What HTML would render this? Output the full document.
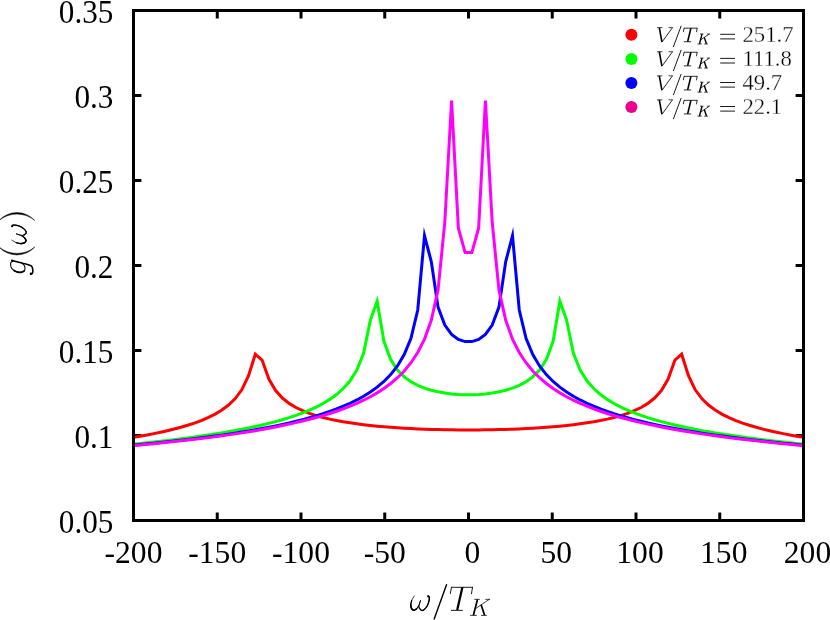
<!DOCTYPE html>
<html><head><meta charset="utf-8"><style>html,body{margin:0;padding:0;background:#fff}svg{display:block;will-change:transform}text{font-family:"Liberation Serif",serif;fill:#000}</style></head><body>
<svg width="830" height="620" viewBox="0 0 830 620">
<rect width="830" height="620" fill="#fff"/>
<path d="M217.25 520.50v-7.90M217.25 10.50v7.90M301.00 520.50v-7.90M301.00 10.50v7.90M384.75 520.50v-7.90M384.75 10.50v7.90M468.50 520.50v-7.90M468.50 10.50v7.90M552.25 520.50v-7.90M552.25 10.50v7.90M636.00 520.50v-7.90M636.00 10.50v7.90M719.75 520.50v-7.90M719.75 10.50v7.90M133.50 435.50h7.90M803.50 435.50h-7.90M133.50 350.50h7.90M803.50 350.50h-7.90M133.50 265.50h7.90M803.50 265.50h-7.90M133.50 180.50h7.90M803.50 180.50h-7.90M133.50 95.50h7.90M803.50 95.50h-7.90" stroke="#000" stroke-width="3" fill="none"/>
<polyline fill="none" stroke="#ff0000" stroke-width="3" stroke-linejoin="miter" stroke-miterlimit="10" stroke-linecap="butt" points="133.50,437.32 140.27,436.18 147.04,434.96 153.80,433.65 160.57,432.25 167.34,430.73 174.11,429.08 180.87,427.28 187.64,425.29 194.41,423.06 201.18,420.56 207.94,417.69 214.71,414.33 221.48,410.31 228.25,405.33 235.02,398.85 241.78,389.80 248.55,375.75 255.32,354.21 262.09,360.04 268.85,379.08 275.62,390.56 282.39,398.05 289.16,403.40 295.92,407.48 302.69,410.71 309.46,413.37 316.23,415.58 322.99,417.47 329.76,419.10 336.53,420.51 343.30,421.76 350.07,422.85 356.83,423.82 363.60,424.69 370.37,425.46 377.14,426.14 383.90,426.75 390.67,427.29 397.44,427.78 404.21,428.20 410.97,428.57 417.74,428.90 424.51,429.18 431.28,429.41 438.05,429.60 444.81,429.75 451.58,429.87 458.35,429.94 465.12,429.98 471.88,429.98 478.65,429.94 485.42,429.87 492.19,429.75 498.95,429.60 505.72,429.41 512.49,429.18 519.26,428.90 526.03,428.57 532.79,428.20 539.56,427.78 546.33,427.29 553.10,426.75 559.86,426.14 566.63,425.46 573.40,424.69 580.17,423.82 586.93,422.85 593.70,421.76 600.47,420.51 607.24,419.10 614.01,417.47 620.77,415.58 627.54,413.37 634.31,410.71 641.08,407.48 647.84,403.40 654.61,398.05 661.38,390.56 668.15,379.08 674.91,360.04 681.68,354.21 688.45,375.75 695.22,389.80 701.98,398.85 708.75,405.33 715.52,410.31 722.29,414.33 729.06,417.69 735.82,420.56 742.59,423.06 749.36,425.29 756.13,427.28 762.89,429.08 769.66,430.73 776.43,432.25 783.20,433.65 789.96,434.96 796.73,436.18 803.50,437.32"/>
<polyline fill="none" stroke="#00ff00" stroke-width="3" stroke-linejoin="miter" stroke-miterlimit="10" stroke-linecap="butt" points="133.50,444.14 140.27,443.46 147.04,442.75 153.80,442.02 160.57,441.27 167.34,440.49 174.11,439.67 180.87,438.83 187.64,437.95 194.41,437.04 201.18,436.09 207.94,435.09 214.71,434.05 221.48,432.95 228.25,431.81 235.02,430.60 241.78,429.32 248.55,427.97 255.32,426.53 262.09,425.00 268.85,423.36 275.62,421.60 282.39,419.71 289.16,417.64 295.92,415.39 302.69,412.91 309.46,410.15 316.23,407.05 322.99,403.51 329.76,399.40 336.53,394.51 343.30,388.50 350.07,380.78 356.83,370.08 363.60,353.32 370.37,320.19 377.14,301.16 383.90,341.27 390.67,359.62 397.44,370.03 404.21,376.87 410.97,381.74 417.74,385.36 424.51,388.11 431.28,390.23 438.05,391.85 444.81,393.07 451.58,393.93 458.35,394.49 465.12,394.77 471.88,394.77 478.65,394.49 485.42,393.93 492.19,393.07 498.95,391.85 505.72,390.23 512.49,388.11 519.26,385.36 526.03,381.74 532.79,376.87 539.56,370.03 546.33,359.62 553.10,341.27 559.86,301.16 566.63,320.19 573.40,353.32 580.17,370.08 586.93,380.78 593.70,388.50 600.47,394.51 607.24,399.40 614.01,403.51 620.77,407.05 627.54,410.15 634.31,412.91 641.08,415.39 647.84,417.64 654.61,419.71 661.38,421.60 668.15,423.36 674.91,425.00 681.68,426.53 688.45,427.97 695.22,429.32 701.98,430.60 708.75,431.81 715.52,432.95 722.29,434.05 729.06,435.09 735.82,436.09 742.59,437.04 749.36,437.95 756.13,438.83 762.89,439.67 769.66,440.49 776.43,441.27 783.20,442.02 789.96,442.75 796.73,443.46 803.50,444.14"/>
<polyline fill="none" stroke="#0000ff" stroke-width="3" stroke-linejoin="miter" stroke-miterlimit="10" stroke-linecap="butt" points="133.50,445.14 140.27,444.51 147.04,443.86 153.80,443.19 160.57,442.50 167.34,441.79 174.11,441.06 180.87,440.30 187.64,439.52 194.41,438.70 201.18,437.86 207.94,436.99 214.71,436.08 221.48,435.14 228.25,434.15 235.02,433.13 241.78,432.06 248.55,430.94 255.32,429.77 262.09,428.54 268.85,427.25 275.62,425.89 282.39,424.45 289.16,422.94 295.92,421.32 302.69,419.61 309.46,417.78 316.23,415.82 322.99,413.71 329.76,411.43 336.53,408.95 343.30,406.24 350.07,403.26 356.83,399.95 363.60,396.24 370.37,392.03 377.14,387.17 383.90,381.47 390.67,374.60 397.44,366.00 404.21,354.64 410.97,338.23 417.74,310.00 424.51,235.61 431.28,261.59 438.05,307.13 444.81,325.06 451.58,334.34 458.35,339.36 465.12,341.60 471.88,341.60 478.65,339.36 485.42,334.34 492.19,325.06 498.95,307.13 505.72,261.59 512.49,235.61 519.26,310.00 526.03,338.23 532.79,354.64 539.56,366.00 546.33,374.60 553.10,381.47 559.86,387.17 566.63,392.03 573.40,396.24 580.17,399.95 586.93,403.26 593.70,406.24 600.47,408.95 607.24,411.43 614.01,413.71 620.77,415.82 627.54,417.78 634.31,419.61 641.08,421.32 647.84,422.94 654.61,424.45 661.38,425.89 668.15,427.25 674.91,428.54 681.68,429.77 688.45,430.94 695.22,432.06 701.98,433.13 708.75,434.15 715.52,435.14 722.29,436.08 729.06,436.99 735.82,437.86 742.59,438.70 749.36,439.52 756.13,440.30 762.89,441.06 769.66,441.79 776.43,442.50 783.20,443.19 789.96,443.86 796.73,444.51 803.50,445.14"/>
<polyline fill="none" stroke="#ff00ff" stroke-width="3" stroke-linejoin="miter" stroke-miterlimit="10" stroke-linecap="butt" points="133.50,445.60 140.27,444.98 147.04,444.35 153.80,443.69 160.57,443.02 167.34,442.32 174.11,441.60 180.87,440.86 187.64,440.09 194.41,439.30 201.18,438.48 207.94,437.63 214.71,436.75 221.48,435.83 228.25,434.88 235.02,433.89 241.78,432.86 248.55,431.78 255.32,430.66 262.09,429.48 268.85,428.25 275.62,426.95 282.39,425.59 289.16,424.15 295.92,422.64 302.69,421.03 309.46,419.32 316.23,417.51 322.99,415.57 329.76,413.49 336.53,411.25 343.30,408.84 350.07,406.22 356.83,403.35 363.60,400.21 370.37,396.73 377.14,392.85 383.90,388.48 390.67,383.50 397.44,377.73 404.21,370.94 410.97,362.73 417.74,352.49 424.51,339.11 431.28,320.26 438.05,289.89 444.81,222.25 451.58,100.51 458.35,227.97 465.12,252.54 471.88,252.54 478.65,227.97 485.42,100.51 492.19,222.25 498.95,289.89 505.72,320.26 512.49,339.11 519.26,352.49 526.03,362.73 532.79,370.94 539.56,377.73 546.33,383.50 553.10,388.48 559.86,392.85 566.63,396.73 573.40,400.21 580.17,403.35 586.93,406.22 593.70,408.84 600.47,411.25 607.24,413.49 614.01,415.57 620.77,417.51 627.54,419.32 634.31,421.03 641.08,422.64 647.84,424.15 654.61,425.59 661.38,426.95 668.15,428.25 674.91,429.48 681.68,430.66 688.45,431.78 695.22,432.86 701.98,433.89 708.75,434.88 715.52,435.83 722.29,436.75 729.06,437.63 735.82,438.48 742.59,439.30 749.36,440.09 756.13,440.86 762.89,441.60 769.66,442.32 776.43,443.02 783.20,443.69 789.96,444.35 796.73,444.98 803.50,445.60"/>
<rect x="133.5" y="10.5" width="670.0" height="510.0" fill="none" stroke="#000" stroke-width="3"/>
<text transform="translate(133.50,562.9) scale(0.987,1.01)" font-size="32" text-anchor="middle">-200</text>
<text transform="translate(217.25,562.9) scale(0.987,1.01)" font-size="32" text-anchor="middle">-150</text>
<text transform="translate(301.00,562.9) scale(0.987,1.01)" font-size="32" text-anchor="middle">-100</text>
<text transform="translate(384.75,562.9) scale(0.987,1.01)" font-size="32" text-anchor="middle">-50</text>
<text transform="translate(472.50,562.9) scale(0.987,1.01)" font-size="32" text-anchor="middle">0</text>
<text transform="translate(556.25,562.9) scale(0.987,1.01)" font-size="32" text-anchor="middle">50</text>
<text transform="translate(640.00,562.9) scale(0.987,1.01)" font-size="32" text-anchor="middle">100</text>
<text transform="translate(723.75,562.9) scale(0.987,1.01)" font-size="32" text-anchor="middle">150</text>
<text transform="translate(807.50,562.9) scale(0.987,1.01)" font-size="32" text-anchor="middle">200</text>
<text transform="translate(113.4,532.50) scale(0.975,1.02)" font-size="32" text-anchor="end">0.05</text>
<text transform="translate(113.4,447.50) scale(0.975,1.02)" font-size="32" text-anchor="end">0.1</text>
<text transform="translate(113.4,362.50) scale(0.975,1.02)" font-size="32" text-anchor="end">0.15</text>
<text transform="translate(113.4,277.50) scale(0.975,1.02)" font-size="32" text-anchor="end">0.2</text>
<text transform="translate(113.4,192.50) scale(0.975,1.02)" font-size="32" text-anchor="end">0.25</text>
<text transform="translate(113.4,107.50) scale(0.975,1.02)" font-size="32" text-anchor="end">0.3</text>
<text transform="translate(113.4,22.50) scale(0.975,1.02)" font-size="32" text-anchor="end">0.35</text>
<circle cx="631.4" cy="34.8" r="6" fill="#ff0000"/>
<g transform="translate(657.00,42.10) scale(0.6000,0.5780)"><path d="M0.00 -25.00L9.00 -25.00" fill="none" stroke="#000" stroke-width="1.25" stroke-linecap="butt" stroke-linejoin="round"/><path d="M3.83 -25.00L8.17 -0.33" fill="none" stroke="#000" stroke-width="2.666666666666667" stroke-linecap="butt" stroke-linejoin="round"/><path d="M8.17 0.17L25.33 -24.33" fill="none" stroke="#000" stroke-width="1.4166666666666667" stroke-linecap="butt" stroke-linejoin="round"/><path d="M19.33 -25.00L27.00 -25.00" fill="none" stroke="#000" stroke-width="1.25" stroke-linecap="butt" stroke-linejoin="round"/></g>
<path d="M673.30 47.00L681.20 25.80" fill="none" stroke="#000" stroke-width="0.9" stroke-linecap="butt" stroke-linejoin="round"/>
<g transform="translate(683.20,41.95) scale(0.6200,0.5900)"><path d="M1.40 -23.40L22.70 -23.40" fill="none" stroke="#000" stroke-width="1.35" stroke-linecap="butt" stroke-linejoin="round"/><path d="M1.50 -23.80L0.30 -16.90" fill="none" stroke="#000" stroke-width="1.35" stroke-linecap="butt" stroke-linejoin="round"/><path d="M22.60 -23.80L21.40 -16.60" fill="none" stroke="#000" stroke-width="1.35" stroke-linecap="butt" stroke-linejoin="round"/><path d="M12.40 -23.40L7.20 -0.60" fill="none" stroke="#000" stroke-width="2.6" stroke-linecap="butt" stroke-linejoin="round"/><path d="M1.00 -0.35L12.80 -0.35" fill="none" stroke="#000" stroke-width="1.35" stroke-linecap="butt" stroke-linejoin="round"/></g>
<g transform="translate(697.40,44.20) scale(0.6200)"><path d="M7.50 -16.40L3.40 -0.60" fill="none" stroke="#000" stroke-width="2.3" stroke-linecap="butt" stroke-linejoin="round"/><path d="M4.30 -16.45L9.80 -16.45" fill="none" stroke="#000" stroke-width="1.25" stroke-linecap="butt" stroke-linejoin="round"/><path d="M0.10 -0.40L6.90 -0.40" fill="none" stroke="#000" stroke-width="1.25" stroke-linecap="butt" stroke-linejoin="round"/><path d="M5.90 -7.40L19.20 -16.40" fill="none" stroke="#000" stroke-width="1.25" stroke-linecap="butt" stroke-linejoin="round"/><path d="M15.30 -16.45L20.10 -16.45" fill="none" stroke="#000" stroke-width="1.25" stroke-linecap="butt" stroke-linejoin="round"/><path d="M11.10 -11.00L14.60 -0.60" fill="none" stroke="#000" stroke-width="2.3" stroke-linecap="butt" stroke-linejoin="round"/><path d="M11.10 -0.40L16.90 -0.40" fill="none" stroke="#000" stroke-width="1.25" stroke-linecap="butt" stroke-linejoin="round"/></g>
<path d="M720.2 34.30H735M720.2 38.90H735" fill="none" stroke="#000" stroke-width="0.9" stroke-linecap="butt" stroke-linejoin="round"/>
<text transform="translate(742.4,41.90) scale(1.034,1.06)" font-size="22" fill="#000" stroke="#fff" stroke-width="0.3">251.7</text>
<circle cx="631.4" cy="58.9" r="6" fill="#00ff00"/>
<g transform="translate(657.00,66.20) scale(0.6000,0.5780)"><path d="M0.00 -25.00L9.00 -25.00" fill="none" stroke="#000" stroke-width="1.25" stroke-linecap="butt" stroke-linejoin="round"/><path d="M3.83 -25.00L8.17 -0.33" fill="none" stroke="#000" stroke-width="2.666666666666667" stroke-linecap="butt" stroke-linejoin="round"/><path d="M8.17 0.17L25.33 -24.33" fill="none" stroke="#000" stroke-width="1.4166666666666667" stroke-linecap="butt" stroke-linejoin="round"/><path d="M19.33 -25.00L27.00 -25.00" fill="none" stroke="#000" stroke-width="1.25" stroke-linecap="butt" stroke-linejoin="round"/></g>
<path d="M673.30 71.10L681.20 49.90" fill="none" stroke="#000" stroke-width="0.9" stroke-linecap="butt" stroke-linejoin="round"/>
<g transform="translate(683.20,66.05) scale(0.6200,0.5900)"><path d="M1.40 -23.40L22.70 -23.40" fill="none" stroke="#000" stroke-width="1.35" stroke-linecap="butt" stroke-linejoin="round"/><path d="M1.50 -23.80L0.30 -16.90" fill="none" stroke="#000" stroke-width="1.35" stroke-linecap="butt" stroke-linejoin="round"/><path d="M22.60 -23.80L21.40 -16.60" fill="none" stroke="#000" stroke-width="1.35" stroke-linecap="butt" stroke-linejoin="round"/><path d="M12.40 -23.40L7.20 -0.60" fill="none" stroke="#000" stroke-width="2.6" stroke-linecap="butt" stroke-linejoin="round"/><path d="M1.00 -0.35L12.80 -0.35" fill="none" stroke="#000" stroke-width="1.35" stroke-linecap="butt" stroke-linejoin="round"/></g>
<g transform="translate(697.40,68.30) scale(0.6200)"><path d="M7.50 -16.40L3.40 -0.60" fill="none" stroke="#000" stroke-width="2.3" stroke-linecap="butt" stroke-linejoin="round"/><path d="M4.30 -16.45L9.80 -16.45" fill="none" stroke="#000" stroke-width="1.25" stroke-linecap="butt" stroke-linejoin="round"/><path d="M0.10 -0.40L6.90 -0.40" fill="none" stroke="#000" stroke-width="1.25" stroke-linecap="butt" stroke-linejoin="round"/><path d="M5.90 -7.40L19.20 -16.40" fill="none" stroke="#000" stroke-width="1.25" stroke-linecap="butt" stroke-linejoin="round"/><path d="M15.30 -16.45L20.10 -16.45" fill="none" stroke="#000" stroke-width="1.25" stroke-linecap="butt" stroke-linejoin="round"/><path d="M11.10 -11.00L14.60 -0.60" fill="none" stroke="#000" stroke-width="2.3" stroke-linecap="butt" stroke-linejoin="round"/><path d="M11.10 -0.40L16.90 -0.40" fill="none" stroke="#000" stroke-width="1.25" stroke-linecap="butt" stroke-linejoin="round"/></g>
<path d="M720.2 58.40H735M720.2 63.00H735" fill="none" stroke="#000" stroke-width="0.9" stroke-linecap="butt" stroke-linejoin="round"/>
<text transform="translate(742.4,66.00) scale(1.034,1.06)" font-size="22" fill="#000" stroke="#fff" stroke-width="0.3">111.8</text>
<circle cx="631.4" cy="83.0" r="6" fill="#0000ff"/>
<g transform="translate(657.00,90.30) scale(0.6000,0.5780)"><path d="M0.00 -25.00L9.00 -25.00" fill="none" stroke="#000" stroke-width="1.25" stroke-linecap="butt" stroke-linejoin="round"/><path d="M3.83 -25.00L8.17 -0.33" fill="none" stroke="#000" stroke-width="2.666666666666667" stroke-linecap="butt" stroke-linejoin="round"/><path d="M8.17 0.17L25.33 -24.33" fill="none" stroke="#000" stroke-width="1.4166666666666667" stroke-linecap="butt" stroke-linejoin="round"/><path d="M19.33 -25.00L27.00 -25.00" fill="none" stroke="#000" stroke-width="1.25" stroke-linecap="butt" stroke-linejoin="round"/></g>
<path d="M673.30 95.20L681.20 74.00" fill="none" stroke="#000" stroke-width="0.9" stroke-linecap="butt" stroke-linejoin="round"/>
<g transform="translate(683.20,90.15) scale(0.6200,0.5900)"><path d="M1.40 -23.40L22.70 -23.40" fill="none" stroke="#000" stroke-width="1.35" stroke-linecap="butt" stroke-linejoin="round"/><path d="M1.50 -23.80L0.30 -16.90" fill="none" stroke="#000" stroke-width="1.35" stroke-linecap="butt" stroke-linejoin="round"/><path d="M22.60 -23.80L21.40 -16.60" fill="none" stroke="#000" stroke-width="1.35" stroke-linecap="butt" stroke-linejoin="round"/><path d="M12.40 -23.40L7.20 -0.60" fill="none" stroke="#000" stroke-width="2.6" stroke-linecap="butt" stroke-linejoin="round"/><path d="M1.00 -0.35L12.80 -0.35" fill="none" stroke="#000" stroke-width="1.35" stroke-linecap="butt" stroke-linejoin="round"/></g>
<g transform="translate(697.40,92.40) scale(0.6200)"><path d="M7.50 -16.40L3.40 -0.60" fill="none" stroke="#000" stroke-width="2.3" stroke-linecap="butt" stroke-linejoin="round"/><path d="M4.30 -16.45L9.80 -16.45" fill="none" stroke="#000" stroke-width="1.25" stroke-linecap="butt" stroke-linejoin="round"/><path d="M0.10 -0.40L6.90 -0.40" fill="none" stroke="#000" stroke-width="1.25" stroke-linecap="butt" stroke-linejoin="round"/><path d="M5.90 -7.40L19.20 -16.40" fill="none" stroke="#000" stroke-width="1.25" stroke-linecap="butt" stroke-linejoin="round"/><path d="M15.30 -16.45L20.10 -16.45" fill="none" stroke="#000" stroke-width="1.25" stroke-linecap="butt" stroke-linejoin="round"/><path d="M11.10 -11.00L14.60 -0.60" fill="none" stroke="#000" stroke-width="2.3" stroke-linecap="butt" stroke-linejoin="round"/><path d="M11.10 -0.40L16.90 -0.40" fill="none" stroke="#000" stroke-width="1.25" stroke-linecap="butt" stroke-linejoin="round"/></g>
<path d="M720.2 82.50H735M720.2 87.10H735" fill="none" stroke="#000" stroke-width="0.9" stroke-linecap="butt" stroke-linejoin="round"/>
<text transform="translate(742.4,90.10) scale(1.034,1.06)" font-size="22" fill="#000" stroke="#fff" stroke-width="0.3">49.7</text>
<circle cx="631.4" cy="107.0" r="6" fill="#ec008c"/>
<g transform="translate(657.00,114.30) scale(0.6000,0.5780)"><path d="M0.00 -25.00L9.00 -25.00" fill="none" stroke="#000" stroke-width="1.25" stroke-linecap="butt" stroke-linejoin="round"/><path d="M3.83 -25.00L8.17 -0.33" fill="none" stroke="#000" stroke-width="2.666666666666667" stroke-linecap="butt" stroke-linejoin="round"/><path d="M8.17 0.17L25.33 -24.33" fill="none" stroke="#000" stroke-width="1.4166666666666667" stroke-linecap="butt" stroke-linejoin="round"/><path d="M19.33 -25.00L27.00 -25.00" fill="none" stroke="#000" stroke-width="1.25" stroke-linecap="butt" stroke-linejoin="round"/></g>
<path d="M673.30 119.20L681.20 98.00" fill="none" stroke="#000" stroke-width="0.9" stroke-linecap="butt" stroke-linejoin="round"/>
<g transform="translate(683.20,114.15) scale(0.6200,0.5900)"><path d="M1.40 -23.40L22.70 -23.40" fill="none" stroke="#000" stroke-width="1.35" stroke-linecap="butt" stroke-linejoin="round"/><path d="M1.50 -23.80L0.30 -16.90" fill="none" stroke="#000" stroke-width="1.35" stroke-linecap="butt" stroke-linejoin="round"/><path d="M22.60 -23.80L21.40 -16.60" fill="none" stroke="#000" stroke-width="1.35" stroke-linecap="butt" stroke-linejoin="round"/><path d="M12.40 -23.40L7.20 -0.60" fill="none" stroke="#000" stroke-width="2.6" stroke-linecap="butt" stroke-linejoin="round"/><path d="M1.00 -0.35L12.80 -0.35" fill="none" stroke="#000" stroke-width="1.35" stroke-linecap="butt" stroke-linejoin="round"/></g>
<g transform="translate(697.40,116.40) scale(0.6200)"><path d="M7.50 -16.40L3.40 -0.60" fill="none" stroke="#000" stroke-width="2.3" stroke-linecap="butt" stroke-linejoin="round"/><path d="M4.30 -16.45L9.80 -16.45" fill="none" stroke="#000" stroke-width="1.25" stroke-linecap="butt" stroke-linejoin="round"/><path d="M0.10 -0.40L6.90 -0.40" fill="none" stroke="#000" stroke-width="1.25" stroke-linecap="butt" stroke-linejoin="round"/><path d="M5.90 -7.40L19.20 -16.40" fill="none" stroke="#000" stroke-width="1.25" stroke-linecap="butt" stroke-linejoin="round"/><path d="M15.30 -16.45L20.10 -16.45" fill="none" stroke="#000" stroke-width="1.25" stroke-linecap="butt" stroke-linejoin="round"/><path d="M11.10 -11.00L14.60 -0.60" fill="none" stroke="#000" stroke-width="2.3" stroke-linecap="butt" stroke-linejoin="round"/><path d="M11.10 -0.40L16.90 -0.40" fill="none" stroke="#000" stroke-width="1.25" stroke-linecap="butt" stroke-linejoin="round"/></g>
<path d="M720.2 106.50H735M720.2 111.10H735" fill="none" stroke="#000" stroke-width="0.9" stroke-linecap="butt" stroke-linejoin="round"/>
<text transform="translate(742.4,114.10) scale(1.034,1.06)" font-size="22" fill="#000" stroke="#fff" stroke-width="0.3">22.1</text>
<g transform="translate(409.80,610.60)"><path d="M4.45 -14.60C4.03 -13.85 2.50 -11.58 1.92 -10.10C1.34 -8.62 1.01 -7.03 0.98 -5.70C0.94 -4.37 1.24 -2.98 1.73 -2.10C2.21 -1.22 3.09 -0.48 3.89 -0.40C4.69 -0.32 5.71 -0.92 6.52 -1.60C7.34 -2.28 8.09 -3.12 8.78 -4.50C9.47 -5.88 10.34 -9.00 10.66 -9.90" fill="none" stroke="#000" stroke-width="0.8" stroke-linecap="round" stroke-linejoin="round"/><path d="M1.92 -10.10C1.76 -9.37 1.01 -7.03 0.98 -5.70C0.94 -4.37 1.24 -2.98 1.73 -2.10C2.21 -1.22 3.09 -0.48 3.89 -0.40C4.69 -0.32 5.71 -0.92 6.52 -1.60C7.34 -2.28 8.40 -4.02 8.78 -4.50" fill="none" stroke="#000" stroke-width="1.2" stroke-linecap="round" stroke-linejoin="round"/><path d="M0.98 -5.70C1.10 -5.10 1.24 -2.98 1.73 -2.10C2.21 -1.22 3.09 -0.48 3.89 -0.40C4.69 -0.32 6.08 -1.40 6.52 -1.60" fill="none" stroke="#000" stroke-width="1.55" stroke-linecap="round" stroke-linejoin="round"/><path d="M10.66 -9.90C10.44 -9.13 9.53 -6.53 9.34 -5.30C9.15 -4.07 9.12 -3.35 9.53 -2.50C9.94 -1.65 10.96 -0.42 11.79 -0.20C12.62 0.02 13.56 -0.42 14.51 -1.20C15.47 -1.98 16.71 -3.35 17.52 -4.90C18.33 -6.45 19.09 -9.00 19.40 -10.50C19.71 -12.00 19.57 -13.23 19.40 -13.90C19.23 -14.57 18.54 -14.40 18.37 -14.50" fill="none" stroke="#000" stroke-width="1.0" stroke-linecap="round" stroke-linejoin="round"/><path d="M9.53 -2.50C9.91 -2.12 10.96 -0.42 11.79 -0.20C12.62 0.02 13.56 -0.42 14.51 -1.20C15.47 -1.98 16.71 -3.35 17.52 -4.90C18.33 -6.45 19.09 -9.00 19.40 -10.50C19.71 -12.00 19.40 -13.33 19.40 -13.90" fill="none" stroke="#000" stroke-width="1.35" stroke-linecap="round" stroke-linejoin="round"/><circle cx="18.37" cy="-14.3" r="1.1" fill="#000"/></g>
<path d="M434.00 619.60L446.70 584.30" fill="none" stroke="#000" stroke-width="1.4" stroke-linecap="butt" stroke-linejoin="round"/>
<g transform="translate(450.00,610.70)"><path d="M1.40 -23.40L22.70 -23.40" fill="none" stroke="#000" stroke-width="0.9" stroke-linecap="butt" stroke-linejoin="round"/><path d="M1.50 -23.80L0.30 -16.90" fill="none" stroke="#000" stroke-width="0.9" stroke-linecap="butt" stroke-linejoin="round"/><path d="M22.60 -23.80L21.40 -16.60" fill="none" stroke="#000" stroke-width="0.9" stroke-linecap="butt" stroke-linejoin="round"/><path d="M12.40 -23.40L7.20 -0.60" fill="none" stroke="#000" stroke-width="2.25" stroke-linecap="butt" stroke-linejoin="round"/><path d="M1.00 -0.35L12.80 -0.35" fill="none" stroke="#000" stroke-width="0.9" stroke-linecap="butt" stroke-linejoin="round"/></g>
<g transform="translate(470.00,615.80)"><path d="M7.50 -16.40L3.40 -0.60" fill="none" stroke="#000" stroke-width="1.75" stroke-linecap="butt" stroke-linejoin="round"/><path d="M4.30 -16.45L9.80 -16.45" fill="none" stroke="#000" stroke-width="0.75" stroke-linecap="butt" stroke-linejoin="round"/><path d="M0.10 -0.40L6.90 -0.40" fill="none" stroke="#000" stroke-width="0.75" stroke-linecap="butt" stroke-linejoin="round"/><path d="M5.90 -7.40L19.20 -16.40" fill="none" stroke="#000" stroke-width="0.75" stroke-linecap="butt" stroke-linejoin="round"/><path d="M15.30 -16.45L20.10 -16.45" fill="none" stroke="#000" stroke-width="0.75" stroke-linecap="butt" stroke-linejoin="round"/><path d="M11.10 -11.00L14.60 -0.60" fill="none" stroke="#000" stroke-width="1.75" stroke-linecap="butt" stroke-linejoin="round"/><path d="M11.10 -0.40L16.90 -0.40" fill="none" stroke="#000" stroke-width="0.75" stroke-linecap="butt" stroke-linejoin="round"/></g>
<g transform="translate(26.20,275.60) rotate(-90)"><path d="M15.30 -14.50C14.72 -12.32 12.73 -4.65 11.80 -1.40C10.87 1.85 10.70 3.67 9.70 5.00C8.70 6.33 7.05 6.42 5.80 6.60C4.55 6.78 2.92 6.43 2.20 6.10C1.48 5.77 1.62 4.85 1.50 4.60" fill="none" stroke="#000" stroke-width="1.6" stroke-linecap="round" stroke-linejoin="round"/><path d="M14.60 -13.00C14.42 -13.33 14.03 -14.57 13.50 -15.00C12.97 -15.43 12.33 -15.62 11.40 -15.60C10.47 -15.58 8.97 -15.50 7.90 -14.90C6.83 -14.30 5.73 -13.07 5.00 -12.00C4.27 -10.93 3.78 -9.68 3.50 -8.50C3.22 -7.32 3.10 -5.97 3.30 -4.90C3.50 -3.83 4.05 -2.72 4.70 -2.10C5.35 -1.48 6.32 -1.23 7.20 -1.20C8.08 -1.17 9.13 -1.40 10.00 -1.90C10.87 -2.40 12.00 -3.82 12.40 -4.20" fill="none" stroke="#000" stroke-width="1.1" stroke-linecap="round" stroke-linejoin="round"/><path d="M5.00 -12.00C4.75 -11.42 3.78 -9.68 3.50 -8.50C3.22 -7.32 3.10 -5.97 3.30 -4.90C3.50 -3.83 4.47 -2.57 4.70 -2.10" fill="none" stroke="#000" stroke-width="1.7" stroke-linecap="round" stroke-linejoin="round"/><circle cx="1.9" cy="4.7" r="1.2" fill="#000"/></g>
<path d="M-1 247A24.2 24.2 0 0 0 34.8 247A28.2 28.2 0 0 1 -1 247Z" fill="#000" stroke="#000" stroke-width="0.5"/>
<g transform="translate(26.40,244.60) rotate(-90)"><path d="M4.45 -14.60C4.03 -13.85 2.50 -11.58 1.92 -10.10C1.34 -8.62 1.01 -7.03 0.98 -5.70C0.94 -4.37 1.24 -2.98 1.73 -2.10C2.21 -1.22 3.09 -0.48 3.89 -0.40C4.69 -0.32 5.71 -0.92 6.52 -1.60C7.34 -2.28 8.09 -3.12 8.78 -4.50C9.47 -5.88 10.34 -9.00 10.66 -9.90" fill="none" stroke="#000" stroke-width="0.8" stroke-linecap="round" stroke-linejoin="round"/><path d="M1.92 -10.10C1.76 -9.37 1.01 -7.03 0.98 -5.70C0.94 -4.37 1.24 -2.98 1.73 -2.10C2.21 -1.22 3.09 -0.48 3.89 -0.40C4.69 -0.32 5.71 -0.92 6.52 -1.60C7.34 -2.28 8.40 -4.02 8.78 -4.50" fill="none" stroke="#000" stroke-width="1.2" stroke-linecap="round" stroke-linejoin="round"/><path d="M0.98 -5.70C1.10 -5.10 1.24 -2.98 1.73 -2.10C2.21 -1.22 3.09 -0.48 3.89 -0.40C4.69 -0.32 6.08 -1.40 6.52 -1.60" fill="none" stroke="#000" stroke-width="1.55" stroke-linecap="round" stroke-linejoin="round"/><path d="M10.66 -9.90C10.44 -9.13 9.53 -6.53 9.34 -5.30C9.15 -4.07 9.12 -3.35 9.53 -2.50C9.94 -1.65 10.96 -0.42 11.79 -0.20C12.62 0.02 13.56 -0.42 14.51 -1.20C15.47 -1.98 16.71 -3.35 17.52 -4.90C18.33 -6.45 19.09 -9.00 19.40 -10.50C19.71 -12.00 19.57 -13.23 19.40 -13.90C19.23 -14.57 18.54 -14.40 18.37 -14.50" fill="none" stroke="#000" stroke-width="1.0" stroke-linecap="round" stroke-linejoin="round"/><path d="M9.53 -2.50C9.91 -2.12 10.96 -0.42 11.79 -0.20C12.62 0.02 13.56 -0.42 14.51 -1.20C15.47 -1.98 16.71 -3.35 17.52 -4.90C18.33 -6.45 19.09 -9.00 19.40 -10.50C19.71 -12.00 19.40 -13.33 19.40 -13.90" fill="none" stroke="#000" stroke-width="1.35" stroke-linecap="round" stroke-linejoin="round"/><circle cx="18.37" cy="-14.3" r="1.1" fill="#000"/></g>
<path d="M-1 220.5A24.2 24.2 0 0 1 34.8 220.5A28.2 28.2 0 0 0 -1 220.5Z" fill="#000" stroke="#000" stroke-width="0.5"/>
</svg></body></html>
